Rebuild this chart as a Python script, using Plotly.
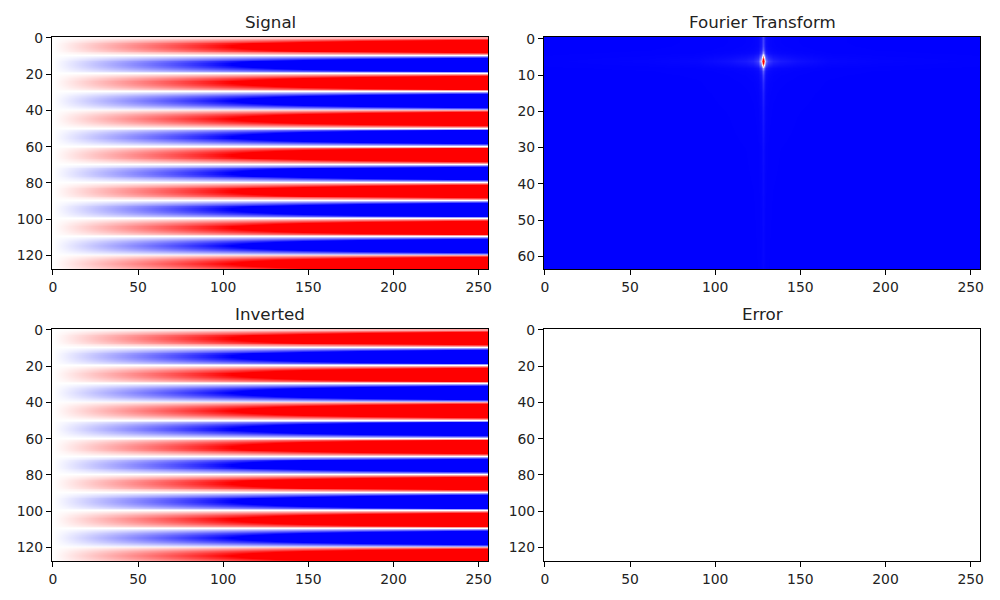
import numpy as np
import plotly.graph_objs as go

# signal: one value per row (stripes), gain read along the columns
signal_rows = [
    0.16, 0.45, 0.71, 0.89, 0.99, 0.99, 0.89, 0.71, 0.45, 0.16,
    -0.16, -0.45, -0.71, -0.89, -0.99, -0.99, -0.89, -0.71, -0.45, -0.16,
    0.16, 0.45, 0.71, 0.89, 0.99, 0.99, 0.89, 0.71, 0.45, 0.16,
    -0.16, -0.45, -0.71, -0.89, -0.99, -0.99, -0.89, -0.71, -0.45, -0.16,
    0.16, 0.45, 0.71, 0.89, 0.99, 0.99, 0.89, 0.71, 0.45, 0.16,
    -0.16, -0.45, -0.71, -0.89, -0.99, -0.99, -0.89, -0.71, -0.45, -0.16,
    0.16, 0.45, 0.71, 0.89, 0.99, 0.99, 0.89, 0.71, 0.45, 0.16,
    -0.16, -0.45, -0.71, -0.89, -0.99, -0.99, -0.89, -0.71, -0.45, -0.16,
    0.16, 0.45, 0.71, 0.89, 0.99, 0.99, 0.89, 0.71, 0.45, 0.16,
    -0.16, -0.45, -0.71, -0.89, -0.99, -0.99, -0.89, -0.71, -0.45, -0.16,
    0.16, 0.45, 0.71, 0.89, 0.99, 0.99, 0.89, 0.71, 0.45, 0.16,
    -0.16, -0.45, -0.71, -0.89, -0.99, -0.99, -0.89, -0.71, -0.45, -0.16,
    0.16, 0.45, 0.71, 0.89, 0.99, 0.99, 0.89, 0.71,
]
signal_x = [0, 25, 50, 75, 100, 125, 150, 175, 200, 225, 255]
signal_gain = [0.0, 0.24, 0.48, 0.72, 0.96, 1.2, 1.44, 1.68, 1.92, 2.16, 2.45]

# fourier transform magnitude, sampled more finely around the peak
ft_x = [0, 60, 90, 108, 118, 122, 124, 125, 126, 127, 128, 129, 130, 131, 132, 134, 138, 148, 166, 196, 255]
ft_col_gain = [0.002, 0.006, 0.012, 0.03, 0.05, 0.07, 0.1, 0.13, 0.22, 0.42, 1.25,
               0.42, 0.22, 0.13, 0.1, 0.07, 0.05, 0.03, 0.012, 0.006, 0.002]
ft_y = [0, 1, 2, 3, 4, 5, 6, 7, 8, 9, 10, 12, 15, 20, 30, 45, 63]
ft_row_gain = [0.1, 0.1, 0.11, 0.15, 0.25, 0.6, 1.0, 0.7, 0.25, 0.14, 0.1, 0.07, 0.05, 0.035, 0.02, 0.012, 0.008]

titles = ['Signal', 'Fourier Transform', 'Inverted', 'Error']
x_ticks = [0, 50, 100, 150, 200, 250]
row_ticks = [0, 20, 40, 60, 80, 100, 120]
ft_row_ticks = [0, 10, 20, 30, 40, 50, 60]

bwr = [[0, 'rgb(0,0,255)'], [0.5, 'rgb(255,255,255)'], [1, 'rgb(255,0,0)']]
font = 'DejaVu Sans'

signal = np.outer(signal_rows, signal_gain)
ft = np.outer(ft_row_gain, ft_col_gain)
error = np.zeros_like(signal)
rows = list(range(len(signal_rows)))


def heat(x, y, z, zmin, zmax, n):
    return go.Heatmap(x=x, y=y, z=z, zmin=zmin, zmax=zmax, colorscale=bwr, zsmooth='best',
                      showscale=False, hoverinfo='skip', xaxis='x' + n, yaxis='y' + n)


figure = go.Figure(data=[
    heat(signal_x, rows, signal, -1, 1, '1'),
    heat(ft_x, ft_y, ft, 0, 1, '2'),
    heat(signal_x, rows, signal, -1, 1, '3'),
    heat(signal_x, rows, error, -1, 1, '4'),
])


def x_axis(left, right, anchor):
    return dict(domain=[left / 1000, right / 1000], range=[-0.5, 255.5], anchor=anchor, tickvals=x_ticks,
                ticks='outside', ticklen=5, tickwidth=1.1, tickcolor='black', showgrid=False, zeroline=False,
                showline=True, linecolor='black', linewidth=1.1, mirror=True,
                tickfont=dict(family=font, size=13.9, color='#222222'))


def y_axis(top, bottom, anchor, last, ticks):
    return dict(domain=[1 - bottom / 600, 1 - top / 600], range=[last + 0.5, -0.5], anchor=anchor, tickvals=ticks,
                ticks='outside', ticklen=5, tickwidth=1.1, tickcolor='black', showgrid=False, zeroline=False,
                showline=True, linecolor='black', linewidth=1.1, mirror=True,
                tickfont=dict(family=font, size=13.9, color='#222222'))


title_pos = [(270, 37), (762, 37), (270, 329), (762, 329)]
annotations = [
    dict(text=t, x=px / 1000, y=1 - py / 600, xref='paper', yref='paper', xanchor='center', yanchor='bottom',
         yshift=3, showarrow=False, font=dict(family=font, size=16.7, color='#222222'))
    for t, (px, py) in zip(titles, title_pos)
]

figure.update_layout(
    width=1000, height=600, margin=dict(l=0, r=0, t=0, b=0, autoexpand=False),
    paper_bgcolor='white', plot_bgcolor='white',
    annotations=annotations,
    xaxis=x_axis(52, 488, 'y'), yaxis=y_axis(37, 269, 'x', 127, row_ticks),
    xaxis2=x_axis(544, 980, 'y2'), yaxis2=y_axis(37, 269, 'x2', 63, ft_row_ticks),
    xaxis3=x_axis(52, 488, 'y3'), yaxis3=y_axis(329, 561, 'x3', 127, row_ticks),
    xaxis4=x_axis(544, 980, 'y4'), yaxis4=y_axis(329, 561, 'x4', 127, row_ticks),
)

figure.write_html('out.html', config={'displayModeBar': False}, post_script="document.body.style.margin = '0';")
